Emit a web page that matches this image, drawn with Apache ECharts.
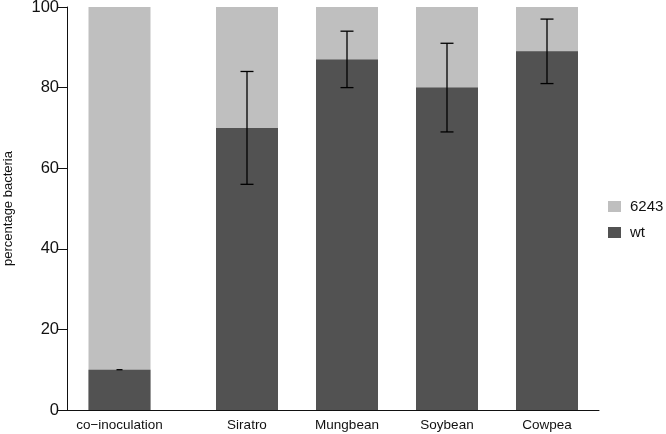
<!DOCTYPE html>
<html>
<head>
<meta charset="utf-8">
<script src="https://cdn.jsdelivr.net/npm/echarts@6/dist/echarts.min.js"></script>
<style>html,body{margin:0;padding:0;background:#fff}#c{width:666px;height:434px}</style>
</head>
<body>
<div id="c"></div>
<script>
// ---- data ----
const categories = ['co\u2212inoculation', 'Siratro', 'Mungbean', 'Soybean', 'Cowpea'];
const wtValues = [10, 70, 87, 80, 89];
const mutValues = [90, 30, 13, 20, 11];   // 6243
const errValues = [0, 14, 7, 11, 8];      // error on wt share
const yTicks = [0, 20, 40, 60, 80, 100];

// ---- layout (barplot-style spacing, in bar-width units) ----
const gapBefore = [0.34, 1.04, 0.6, 0.6, 0.6];
const positions = [];
let acc = 0;
for (let i = 0; i < categories.length; i++) {
  acc += gapBefore[i] + 0.5;
  positions.push(acc);
  acc += 0.5;
}
const xMax = 8.512;

const chart = echarts.init(document.getElementById('c'), null, {renderer: 'canvas'});
const DARK = '#525252', LIGHT = '#bfbfbf';
const FONT = 'Liberation Sans, Arial, sans-serif';

chart.setOption({
  animation: false,
  backgroundColor: '#fff',
  grid: {left: 67, right: 67, top: 7, bottom: 24, containLabel: false, outerBoundsMode: 'none'},
  legend: {
    orient: 'vertical', left: 603, top: 194,
    itemWidth: 13, itemHeight: 11, itemGap: 11,
    icon: 'rect',
    data: ['6243', 'wt'],
    textStyle: {fontSize: 15, color: '#111', fontFamily: FONT, padding: [0, 0, 0, 4]}
  },
  xAxis: {
    type: 'value', min: 0, max: xMax,
    splitLine: {show: false},
    axisLine: {show: true, onZero: false, lineStyle: {color: '#111', width: 1}},
    axisTick: {show: false},
    axisLabel: {
      customValues: positions,
      formatter: v => {
        let best = 0;
        positions.forEach((p, i) => { if (Math.abs(p - v) < Math.abs(positions[best] - v)) best = i; });
        return categories[best];
      },
      fontSize: 13.5, color: '#111', fontFamily: FONT, margin: 8
    }
  },
  yAxis: {
    type: 'value', min: 0, max: 100, interval: 20,
    name: 'percentage bacteria', nameLocation: 'middle', nameGap: 52,
    nameTextStyle: {fontSize: 13, color: '#111', fontFamily: FONT},
    splitLine: {show: false},
    axisLine: {show: true, lineStyle: {color: '#111', width: 1}},
    axisTick: {show: true, length: 10, lineStyle: {color: '#111', width: 1}, customValues: yTicks},
    axisLabel: {fontSize: 16.5, color: '#111', fontFamily: FONT, margin: 8, customValues: yTicks}
  },
  series: [
    {
      name: '6243', type: 'bar', barWidth: 62, barGap: '-100%',
      itemStyle: {color: LIGHT},
      // 6243 share sits on top of the wt share
      data: mutValues.map((v, i) => [positions[i], wtValues[i] + v])
    },
    {
      name: 'wt', type: 'bar', barWidth: 62, barGap: '-100%',
      itemStyle: {color: DARK},
      data: wtValues.map((v, i) => [positions[i], v])
    },
    {
      name: 'err', type: 'custom', z: 10,
      data: wtValues.map((v, i) => [positions[i], v - errValues[i], v + errValues[i]]),
      renderItem: (params, api) => {
        const x = api.value(0);
        const lo = api.coord([x, api.value(1)]);
        const hi = api.coord([x, api.value(2)]);
        const style = {stroke: '#000', lineWidth: 1.3};
        if (Math.abs(hi[1] - lo[1]) < 1) {
          return {type: 'line', shape: {x1: lo[0] - 3, y1: lo[1], x2: lo[0] + 3, y2: lo[1]}, style};
        }
        const half = 6.5;
        return {
          type: 'group',
          children: [
            {type: 'line', shape: {x1: lo[0], y1: lo[1], x2: hi[0], y2: hi[1]}, style},
            {type: 'line', shape: {x1: lo[0] - half, y1: lo[1], x2: lo[0] + half, y2: lo[1]}, style},
            {type: 'line', shape: {x1: hi[0] - half, y1: hi[1], x2: hi[0] + half, y2: hi[1]}, style}
          ]
        };
      }
    }
  ]
});
</script>
</body>
</html>
